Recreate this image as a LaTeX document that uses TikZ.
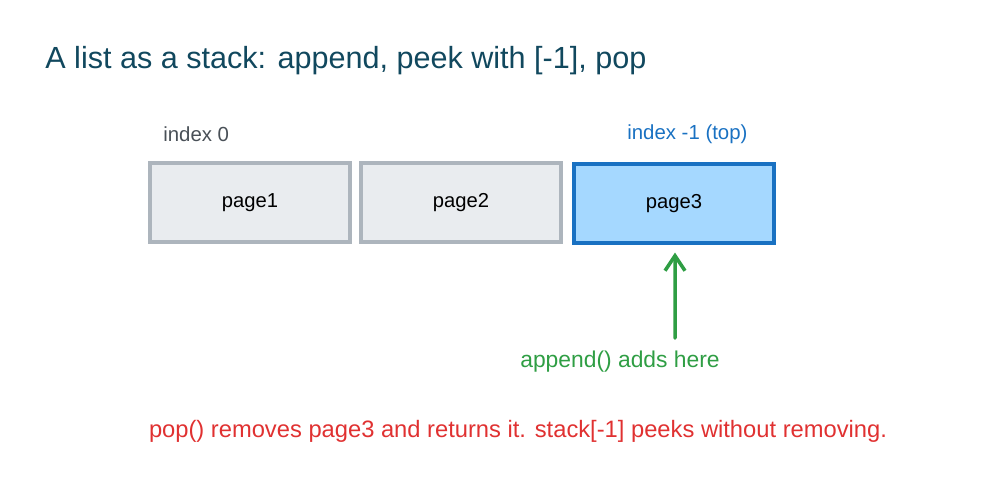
\documentclass[tikz,border=0pt]{standalone}
\usepackage{fontspec}
\setmainfont{Liberation Sans}
\usetikzlibrary{positioning}
\usetikzlibrary{arrows.meta}

\definecolor{titleteal}{RGB}{17,72,94}
\definecolor{boxgray}{RGB}{173,181,189}
\definecolor{boxfill}{RGB}{233,236,239}
\definecolor{topblue}{RGB}{25,113,194}
\definecolor{topfill}{RGB}{165,216,255}
\definecolor{addgreen}{RGB}{47,158,68}
\definecolor{notered}{RGB}{224,49,49}
\definecolor{idxgray}{RGB}{73,80,87}

\tikzset{
    slot/.style={draw=boxgray, fill=boxfill, line width=1.8pt, minimum width=4cm, minimum height=1.58cm, font=\fontsize{11.5}{14}\selectfont},
    topslot/.style={slot, draw=topblue, fill=topfill},
    idx/.style={font=\fontsize{11.6}{13}\selectfont, anchor=west, inner sep=0pt},
}

\begin{document}
\begin{tikzpicture}

    \useasboundingbox (0, 0) rectangle (20, -9.76);

    % title
    \node[anchor=west, inner sep=0pt, text=titleteal, font=\fontsize{17.4}{20}\selectfont] (title) at (0.9, -1.22) {A list as a stack: append, peek with [-1], pop};

    % the list cells
    \node[slot] (page1) at (5.0, -4.05) {page1};
    \node[slot] (page2) at (9.22, -4.05) {page2};
    \node[topslot] (page3) at (13.48, -4.07) {page3};

    % index labels
    \node[idx, text=idxgray] (idx0) at (3.26, -2.68) {index 0};
    \node[idx, text=topblue] (idxtop) at (12.54, -2.68) {index -1 (top)};

    % append arrow
    \node[text=addgreen, font=\fontsize{13}{15}\selectfont] (addlabel) at (12.4, -7.24) {append() adds here};
    \coordinate (tail) at (13.5, -6.76);
    \draw[addgreen, line width=2pt, line cap=round, -{Straight Barb[length=3mm, width=4mm]}] (tail) -- ([xshift=0.02cm, yshift=-0.16cm]page3.south);

    % note
    \node[text=notered, font=\fontsize{13.5}{15}\selectfont] (note) at (10.36, -8.62) {pop() removes page3 and returns it. stack[-1] peeks without removing.};

\end{tikzpicture}
\end{document}
